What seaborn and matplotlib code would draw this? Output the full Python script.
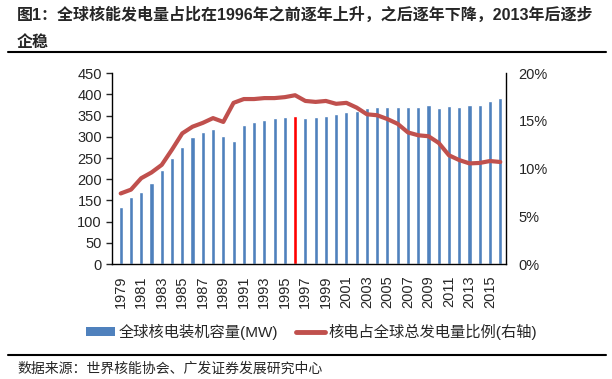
import numpy as np
import pandas as pd
import matplotlib
matplotlib.use("Agg")
import matplotlib.pyplot as plt
from matplotlib.lines import Line2D
from matplotlib.patches import Patch
import seaborn as sns

years = list(range(1979, 2017))
capacity = [135, 157, 170, 190, 222, 251, 277, 300, 311, 319, 303, 290, 328, 336,
            340, 344, 348, 349, 345, 348, 350, 354, 359, 362, 367, 370, 371, 371,
            371, 371, 375, 369, 373, 371, 375, 375, 385, 391]
share = [7.4, 7.8, 9.0, 9.6, 10.4, 12.0, 13.7, 14.4, 14.8, 15.3, 14.9, 16.9, 17.3, 17.3,
         17.4, 17.4, 17.5, 17.7, 17.1, 17.0, 17.1, 16.8, 16.9, 16.4, 15.7, 15.6, 15.2, 14.7,
         13.8, 13.5, 13.4, 12.7, 11.4, 10.9, 10.55, 10.6, 10.8, 10.7]
highlight_year = 1996

title1 = "图1：全球核能发电量占比在1996年之前逐年上升，之后逐年下降，2013年后逐步"
title2 = "企稳"
source = "数据来源：世界核能协会、广发证券发展研究中心"
bar_label = "全球核电装机容量(MW)"
line_label = "核电占全球总发电量比例(右轴)"

blue = "#4F81BD"
red_line = "#C0504D"

sns.set_style("white")
plt.rcParams['font.family'] = ['Liberation Sans', 'Noto Sans CJK SC']

df = pd.DataFrame({'year': [str(y) for y in years], 'cap': capacity,
                   'kind': ['hl' if y == highlight_year else 'base' for y in years]})

fig = plt.figure(figsize=(6.12, 3.79), dpi=100)
ax = fig.add_axes([0.1825, 0.3034, 0.6443, 0.5032])

sns.barplot(data=df, x='year', y='cap', hue='kind', palette={'base': blue, 'hl': '#FF0000'},
            dodge=False, width=0.4, legend=False, ax=ax, saturation=1)
ax.set_ylim(0, 450)
ax.set_yticks(range(0, 451, 50))
ax.set_xlim(-0.88, 37.56)
ax.set_xticks(range(0, len(years), 2))
ax.set_xticklabels([str(y) for y in years[::2]], rotation=90)
ax.set_xlabel("")
ax.set_ylabel("")
ax.tick_params(axis='y', which='both', left=True, length=4, width=1, labelsize=10.5, pad=3)
ax.tick_params(axis='x', length=0, labelsize=10.5, pad=8)
for s in ['left', 'bottom']:
    ax.spines[s].set_color('black')
    ax.spines[s].set_linewidth(1)
ax.spines['top'].set_visible(False)
ax.spines['right'].set_visible(False)

ax2 = ax.twinx()
sns.lineplot(x=np.arange(len(years)), y=share, ax=ax2, color=red_line, lw=3)
ax2.set_ylim(0, 20)
ax2.set_yticks(range(0, 21, 5))
ax2.set_yticklabels([f"{v}%" for v in range(0, 21, 5)])
ax2.tick_params(axis='y', length=0, labelsize=10.5, pad=9)
ax2.spines['right'].set_color('black')
ax2.spines['right'].set_linewidth(1)
for s in ['left', 'top', 'bottom']:
    ax2.spines[s].set_visible(False)
ax2.set_ylabel("")

handles = [Patch(facecolor=blue, edgecolor='none', label=bar_label),
           Line2D([0], [0], color=red_line, lw=3.5, label=line_label)]
fig.legend(handles=handles, loc='center', bbox_to_anchor=(0.509, 0.124), ncol=2,
           frameon=False, fontsize=11, handlelength=1.9, handleheight=0.55,
           handletextpad=0.2, columnspacing=1.2)

fig.text(17 / 612, 1 - 15 / 379, title1, fontsize=11.5, fontweight='bold', va='center', ha='left')
fig.text(17 / 612, 1 - 42 / 379, title2, fontsize=11.5, fontweight='bold', va='center', ha='left')
fig.add_artist(Line2D([0.013, 0.99], [1 - 52 / 379] * 2, color='black', lw=1.5))
fig.add_artist(Line2D([0.013, 0.99], [1 - 355 / 379] * 2, color='black', lw=1.5))
fig.text(17 / 612, 1 - 369 / 379, source, fontsize=10, va='center', ha='left')

fig.savefig("out.png", dpi=100)
